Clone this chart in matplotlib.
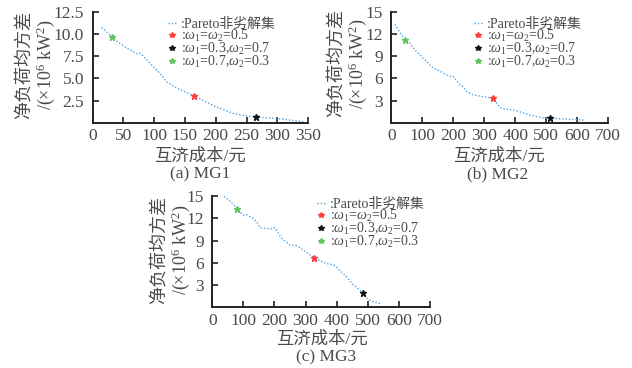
import matplotlib
matplotlib.use("Agg")
import matplotlib.pyplot as plt

plt.rcParams['font.family'] = ['Liberation Serif', 'Noto Sans CJK SC']
plt.rcParams['mathtext.fontset'] = 'custom'
plt.rcParams['mathtext.rm'] = 'Liberation Serif'
plt.rcParams['mathtext.it'] = 'Liberation Serif:italic'

TXT = '#4a4a4a'

# --- Daten ---
# MG1
pa_x = [15, 22, 31, 42, 54, 66, 72, 78, 84, 93, 104, 113, 120, 127, 137, 150, 165,
        185, 202, 218, 229, 250, 265, 282, 299, 320, 342]
pa_y = [10.75, 10.3, 9.7, 9.05, 8.5, 8.0, 7.78, 7.85, 7.4, 6.7, 5.95, 5.3, 4.63, 4.35,
        3.89, 3.5, 3.03, 2.35, 1.75, 1.35, 1.05, 0.8, 0.65, 0.58, 0.5, 0.32, 0.13]
pa_pts = {"red": (165, 3.03), "black": (265, 0.63), "green": (31, 9.7)}

# MG2
pb_x = [12, 22, 35, 47, 60, 76, 90, 103, 114, 135, 157, 168, 185, 200, 210, 222, 232,
        243, 265, 297, 327, 340, 351, 370, 394, 404, 425, 447, 470, 490, 512, 555, 590, 620]
pb_y = [13.3, 12.6, 11.8, 11.2, 10.76, 9.85, 9.3, 8.73, 8.27, 7.38, 7.0, 6.7, 6.35, 6.24,
        5.7, 5.12, 4.89, 4.22, 3.77, 3.54, 3.32, 2.7, 2.05, 1.85, 1.74, 1.65, 1.35, 1.07,
        0.85, 0.7, 0.62, 0.55, 0.45, 0.39]
pb_pts = {"red": (327, 3.32), "black": (512, 0.62), "green": (45, 11.2)}

# MG3
pc_x = [38, 55, 70, 79, 90, 100, 111, 132, 145, 154, 170, 190, 200, 207, 218, 229, 250,
        272, 293, 310, 328, 350, 368, 385, 395, 410, 432, 454, 470, 484, 500, 518, 545]
pc_y = [15.0, 14.4, 13.8, 13.3, 12.8, 12.45, 12.5, 12.0, 11.4, 10.75, 10.66, 10.6, 10.75,
        10.4, 9.6, 9.1, 8.4, 8.3, 7.73, 7.2, 6.69, 6.2, 5.9, 5.75, 5.6, 5.0, 4.12, 3.0,
        2.5, 1.88, 1.1, 0.74, 0.45]
pc_pts = {"red": (328, 6.69), "black": (484, 1.88), "green": (79, 13.3)}

labels = [":Pareto非劣解集",
          r":$\omega_1$=$\omega_2$=0.5",
          r":$\omega_1$=0.3,$\omega_2$=0.7",
          r":$\omega_1$=0.7,$\omega_2$=0.3"]
colors = {"red": "#ff3b3b", "black": "#111111", "green": "#5ec45e"}

panels = [
    # x, y, pts, xlim, xticks, ylim, yticks, ytick labels, axes rect, legend anchor, ylabel pos, xlabel pos, caption
    (pa_x, pa_y, pa_pts, 350, [0, 50, 100, 150, 200, 250, 300, 350], 12.5,
     [2.5, 5.0, 7.5, 10.0, 12.5], ["2.5", "5.0", "7.5", "10.0", "12.5"],
     [0.1464, 0.666, 0.3411, 0.302], (0.35, 0.95), (0.057, 0.823), (0.3165, 0.574),
     (0.3165, 0.525), "(a) MG1"),
    (pb_x, pb_y, pb_pts, 700, [0, 100, 200, 300, 400, 500, 600, 700], 15,
     [3, 6, 9, 12, 15], ["3", "6", "9", "12", "15"],
     [0.6191, 0.666, 0.3434, 0.302], (0.38, 0.95), (0.551, 0.828), (0.79, 0.574),
     (0.787, 0.525), "(b) MG2"),
    (pc_x, pc_y, pc_pts, 700, [0, 100, 200, 300, 400, 500, 600, 700], 15,
     [3, 6, 9, 12, 15], ["3", "6", "9", "12", "15"],
     [0.3358, 0.1652, 0.3445, 0.3016], (0.48, 0.99), (0.2717, 0.321), (0.510, 0.076),
     (0.516, 0.030), "(c) MG3"),
]

fig = plt.figure(figsize=(6.32, 3.68), dpi=100)

for (px, py, pts, xmax, xt, ymax, yt, ytl, rect, lg, ylp, xlp, capp, cap) in panels:
    ax = fig.add_axes(rect)
    ax.plot(px, py, color="#4da3e6", linestyle=(0, (1, 1.4)), linewidth=1.0,
            label=labels[0])
    ax.plot(*pts["red"], marker="*", color=colors["red"], markersize=4.8,
            linestyle="none", label=labels[1])
    ax.plot(*pts["black"], marker="*", color=colors["black"], markersize=4.8,
            linestyle="none", label=labels[2])
    ax.plot(*pts["green"], marker="*", color=colors["green"], markersize=4.8,
            linestyle="none", label=labels[3])

    ax.set_xlim(0, xmax)
    ax.set_ylim(0, ymax)
    ax.set_xticks(xt)
    ax.set_yticks(yt)
    ax.set_yticklabels(ytl)
    for s in ["top", "right"]:
        ax.spines[s].set_visible(False)
    for s in ["left", "bottom"]:
        ax.spines[s].set_linewidth(1.4)
        ax.spines[s].set_color("#222222")
    ax.tick_params(direction="in", length=4.5, width=1.2, color="#222222",
                   labelsize=12.5, labelcolor=TXT)
    ax.tick_params(axis="y", pad=6)
    ax.tick_params(axis="x", pad=4)

    leg = ax.legend(loc="upper left", bbox_to_anchor=lg, frameon=False, fontsize=10,
                    handlelength=0.6, handletextpad=0.35, labelspacing=-0.22,
                    borderpad=0, borderaxespad=0, numpoints=1, markerscale=0.8)
    for t in leg.get_texts():
        t.set_color(TXT)

    fig.text(ylp[0], ylp[1], "净负荷均方差\n/(×10$^6$ kW$^2$)", rotation=90,
             ha="center", va="center", fontsize=13, color=TXT, linespacing=1.1)
    fig.text(xlp[0], xlp[1], "互济成本/元", ha="center", va="center",
             fontsize=12.5, color=TXT)
    fig.text(capp[0], capp[1], cap, ha="center", va="center", fontsize=12.5, color=TXT)

plt.savefig("out.png", dpi=100)
